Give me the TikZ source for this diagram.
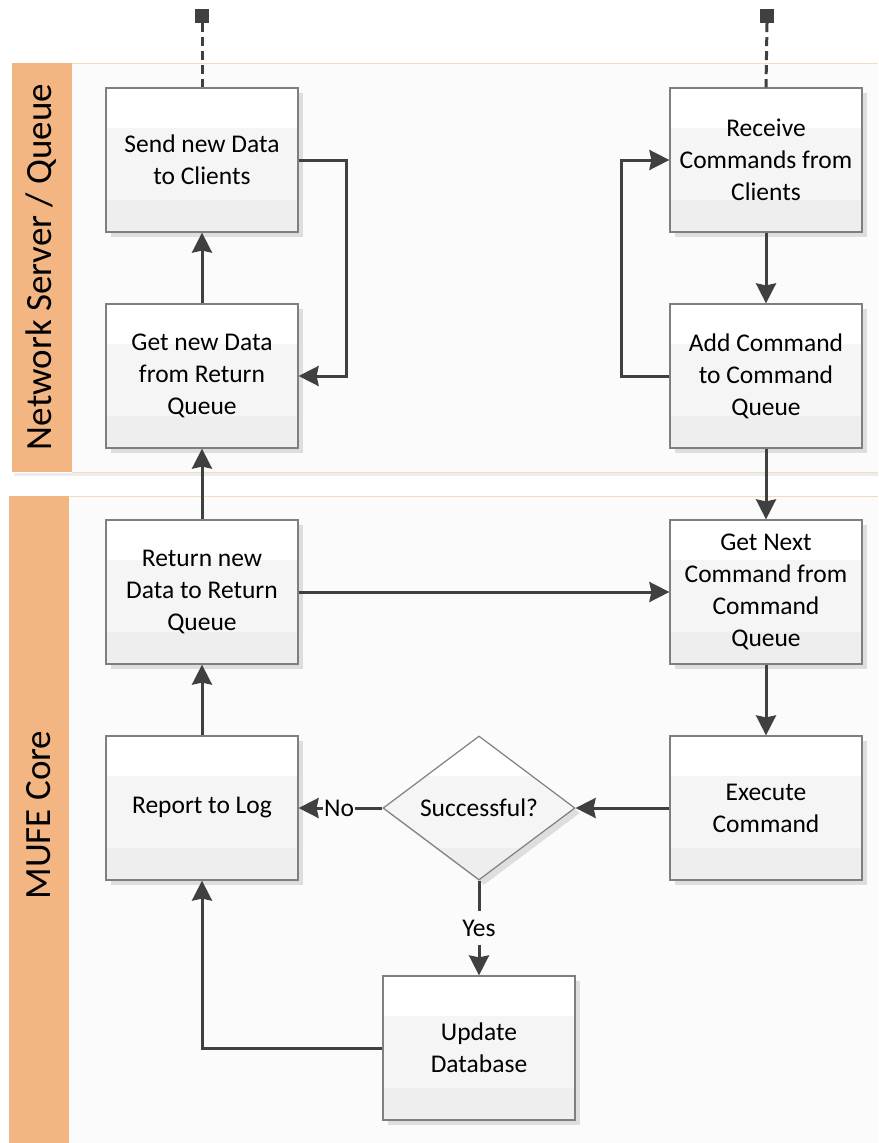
\documentclass[tikz,border=0pt]{standalone}
\usepackage{fontspec}
\newfontfamily\carlito{Carlito}
\usetikzlibrary{arrows.meta,shapes.geometric,shadows}
\definecolor{lanehead}{HTML}{F3B582}
\definecolor{lanebg}{HTML}{FBFBFB}
\definecolor{laneline}{HTML}{F3DDBF}
\definecolor{linecol}{HTML}{404040}
\definecolor{boxborder}{HTML}{7F7F7F}
\definecolor{bandmid}{HTML}{F5F5F5}
\definecolor{bandlow}{HTML}{EEEEEE}
\definecolor{shadowcol}{HTML}{DEDEDE}
\tikzset{
  boxfont/.style={font=\carlito\fontsize{25.5}{32}\selectfont},
  bands/.style={path picture={
    \fill[bandmid] ([yshift=-40pt]path picture bounding box.north west) rectangle ([yshift=32pt]path picture bounding box.south east);
    \fill[bandlow] ([yshift=32pt]path picture bounding box.south west) rectangle (path picture bounding box.south east);}},
  stepbox/.style={draw=boxborder, line width=1.2pt, fill=white, minimum width=192pt, minimum height=144pt,
    inner sep=0pt, align=center, boxfont, bands,
    general shadow={fill=shadowcol, shadow xshift=5pt, shadow yshift=-5pt}},
  decision/.style={stepbox, shape=diamond, aspect=1.333},
  arr/.style={draw=linecol, line width=3pt, -{Stealth[length=20pt,width=20pt,inset=2pt]}},
  plainline/.style={draw=linecol, line width=3pt},
  dashedline/.style={draw=linecol, line width=3pt, dash pattern=on 9pt off 5pt},
  marker/.style={fill=linecol, minimum size=14pt, inner sep=0pt},
  lanetitle/.style={rotate=90, font=\carlito\fontsize{37}{42}\selectfont},
  edgelabel/.style={boxfont, inner sep=1pt, minimum height=33pt}
}
\begin{document}
\begin{tikzpicture}[x=1pt,y=-1pt]
\useasboundingbox (0,0) rectangle (878,1143);
\fill[white] (0,0) rectangle (878,1143);
% lanes
\fill[lanebg] (72,63) rectangle (878,472);
\fill[lanebg] (69,496) rectangle (878,1143);
\fill[black!7] (14,473) rectangle (878,476);
\draw[laneline, line width=1pt] (72,63) -- (878,63);
\draw[laneline, line width=1pt] (72,472) -- (878,472);
\draw[laneline, line width=1pt] (69,496) -- (878,496);
\fill[lanehead] (12,63) rectangle (72,472);
\fill[lanehead] (9,496) rectangle (69,1143);
\node[lanetitle] (lane1) at (41,267) {Network Server / Queue};
\node[lanetitle] (lane2) at (39,815) {MUFE Core};
% markers
\node[marker] (m1) at (202,16) {};
\node[marker] (m2) at (767,16) {};
% boxes
\node[stepbox] (senddata) at (202,160) {Send new Data\\to Clients};
\node[stepbox] (getdata) at (202,376) {Get new Data\\from Return\\Queue};
\node[stepbox] (receive) at (766,160) {Receive\\Commands from\\Clients};
\node[stepbox] (addcmd) at (766,376) {Add Command\\to Command\\Queue};
\node[stepbox] (returndata) at (202,592) {Return new\\Data to Return\\Queue};
\node[stepbox] (getnext) at (766,592) {Get Next\\Command from\\Command\\Queue};
\node[stepbox] (report) at (202,808) {Report to Log};
\node[stepbox] (execute) at (766,808) {Execute\\Command};
\node[decision] (succ) at (479,808) {Successful?};
\node[stepbox] (update) at (479,1048) {Update\\Database};
\node[edgelabel] (no) at (339,808) {No};
\node[edgelabel] (yes) at (479,928) {Yes};
% connectors
\draw[dashedline] (m1.south) -- (senddata.north);
\draw[dashedline] (m2.south) -- (receive.north);
\draw[arr] (getdata.north) -- (senddata.south);
\draw[arr] (senddata.east) -- ++(48,0) |- (getdata.east);
\draw[arr] (receive.south) -- (addcmd.north);
\draw[arr] (addcmd.west) -- ++(-48,0) |- (receive.west);
\draw[arr] (addcmd.south) -- (getnext.north);
\draw[arr] (returndata.north) -- (getdata.south);
\draw[arr] (returndata.east) -- (getnext.west);
\draw[arr] (getnext.south) -- (execute.north);
\draw[arr] (execute.west) -- (succ.east);
\draw[plainline] (succ.west) -- (no.east);
\draw[arr] (no.west) -- (report.east);
\draw[plainline] (succ.south) -- (yes.north);
\draw[arr] (yes.south) -- (update.north);
\draw[arr] (update.west) -| (report.south);
\draw[arr] (report.north) -- (returndata.south);
\end{tikzpicture}
\end{document}
